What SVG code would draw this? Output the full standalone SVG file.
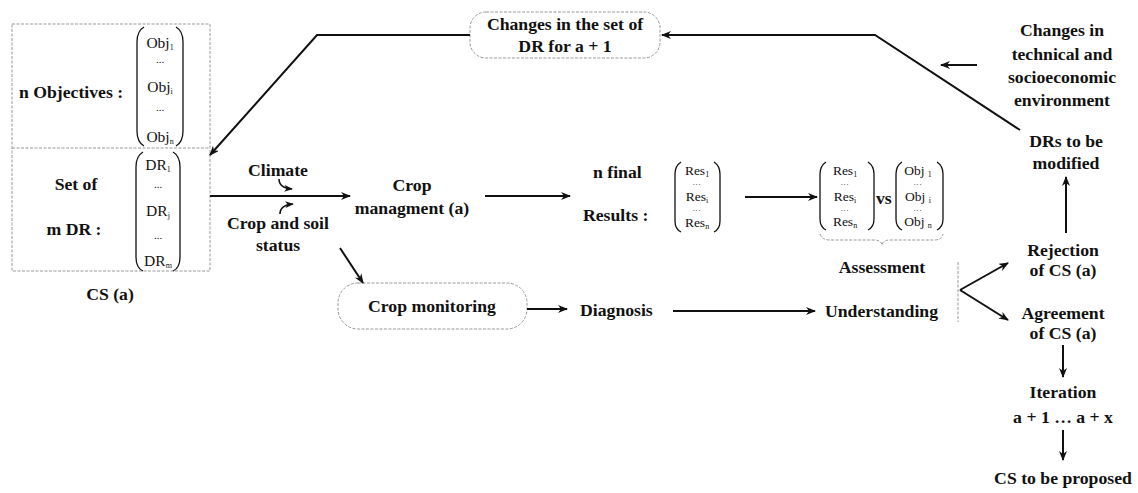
<svg xmlns="http://www.w3.org/2000/svg" width="1138" height="493" viewBox="0 0 1138 493" font-family="'Liberation Serif', 'Times New Roman', serif">
<defs>
<marker id="ah" viewBox="0 0 10 8" refX="9" refY="4" markerWidth="10" markerHeight="8" markerUnits="userSpaceOnUse" orient="auto">
<path d="M0,0 L10,4 L0,8 L3,4 z" fill="#111"/>
</marker>
<marker id="ahs" viewBox="0 0 10 8" refX="9" refY="4" markerWidth="9" markerHeight="7" markerUnits="userSpaceOnUse" orient="auto">
<path d="M0,0 L10,4 L0,8 L3,4 z" fill="#111"/>
</marker>
</defs>
<style>
text{font-family:'Liberation Serif','Times New Roman',serif;font-weight:bold;fill:#111;font-size:17.7px}
.c{text-anchor:middle}
.m{font-size:15.5px;font-weight:normal}
.r{font-size:13.5px;font-weight:normal}
.sub{font-size:8px}
.dots{font-size:11px;font-weight:normal}
.dd{font-size:8px;font-weight:normal;letter-spacing:0.8px}
.box{fill:none;stroke:#999;stroke-width:1;stroke-dasharray:3,1.5}
.par{fill:none;stroke:#111;stroke-width:1.3}
.arr{fill:none;stroke:#111;stroke-width:2;marker-end:url(#ah)}
.arrs{fill:none;stroke:#111;stroke-width:1.6;marker-end:url(#ahs)}
</style>
<rect width="1138" height="493" fill="#fff"/>

<g id="cs-box">
<rect class="box" x="12" y="24" width="198" height="247"/>
<line class="box" x1="12" y1="148" x2="210" y2="148"/>
<text x="19" y="98">n Objectives :</text>
<path class="par" d="M144,27 Q137,31 137,42 L137,131 Q137,142 144,146"/>
<path class="par" d="M176,27 Q183,31 183,42 L183,131 Q183,142 176,146"/>
<text class="m c" x="160" y="48">Obj<tspan class="sub" dy="2">1</tspan></text>
<text class="dots c" x="160" y="63">...</text>
<text class="m c" x="160" y="92">Obj<tspan class="sub" dy="2">i</tspan></text>
<text class="dots c" x="160" y="111">...</text>
<text class="m c" x="160" y="142">Obj<tspan class="sub" dy="2">n</tspan></text>
<text class="c" x="76" y="190">Set of</text>
<text class="c" x="74" y="235">m DR :</text>
<path class="par" d="M143,152 Q136,156 136,167 L136,257 Q136,268 143,271"/>
<path class="par" d="M173,152 Q180,156 180,167 L180,257 Q180,268 173,271"/>
<text class="m c" x="158" y="170">DR<tspan class="sub" dy="2">1</tspan></text>
<text class="dots c" x="158" y="188">...</text>
<text class="m c" x="158" y="216">DR<tspan class="sub" dy="2">j</tspan></text>
<text class="dots c" x="158" y="239">...</text>
<text class="m c" x="158" y="266">DR<tspan class="sub" dy="2">m</tspan></text>
<text class="c" x="110" y="300">CS (a)</text>
</g>

<g id="changes-set">
<rect class="box" x="470" y="12" width="190" height="46" rx="16"/>
<text class="c" x="565" y="30">Changes in the set of</text>
<text class="c" x="565" y="52">DR for a + 1</text>
</g>

<g id="climate"><text class="c" x="278" y="176">Climate</text></g>
<g id="soil"><text class="c" x="278" y="229">Crop and soil</text><text class="c" x="278" y="251">status</text></g>
<g id="crop-management"><text class="c" x="412" y="191">Crop</text><text class="c" x="412" y="214">managment (a)</text></g>

<g id="final-results">
<text x="593" y="178">n final</text>
<text x="583" y="221">Results :</text>
<path class="par" d="M681,162 Q675,166 675,174 L675,221 Q675,229 681,232"/>
<path class="par" d="M714,162 Q720,166 720,174 L720,221 Q720,229 714,232"/>
<text class="r c" x="697" y="175">Res<tspan class="sub" dy="2">1</tspan></text>
<text class="dd c" x="697" y="185">...</text>
<text class="r c" x="697" y="201">Res<tspan class="sub" dy="2">i</tspan></text>
<text class="dd c" x="697" y="211">...</text>
<text class="r c" x="697" y="227">Res<tspan class="sub" dy="2">n</tspan></text>
</g>

<g id="comparison">
<path class="par" d="M826,162 Q820,166 820,174 L820,219 Q820,227 826,230"/>
<path class="par" d="M868,162 Q874,166 874,174 L874,219 Q874,227 868,230"/>
<text class="r c" x="845" y="175">Res<tspan class="sub" dy="2">1</tspan></text>
<text class="dd c" x="845" y="185">...</text>
<text class="r c" x="845" y="201">Res<tspan class="sub" dy="2">i</tspan></text>
<text class="dd c" x="845" y="211">...</text>
<text class="r c" x="845" y="226">Res<tspan class="sub" dy="2">n</tspan></text>
<text x="876" y="204">vs</text>
<path class="par" d="M902,162 Q896,166 896,174 L896,219 Q896,227 902,230"/>
<path class="par" d="M937,162 Q943,166 943,174 L943,219 Q943,227 937,230"/>
<text class="r c" x="918" y="175">Obj <tspan class="sub" dy="2">1</tspan></text>
<text class="dd c" x="918" y="185">...</text>
<text class="r c" x="918" y="201">Obj <tspan class="sub" dy="2">i</tspan></text>
<text class="dd c" x="918" y="211">...</text>
<text class="r c" x="918" y="226">Obj <tspan class="sub" dy="2">n</tspan></text>
<path class="box" d="M820,234 Q822,240 830,240 L874,240 Q881,240 882,245 Q883,240 890,240 L934,240 Q942,240 943,234"/>
<text class="c" x="882" y="273">Assessment</text>
</g>

<g id="crop-monitoring">
<rect class="box" x="338" y="283" width="189" height="46" rx="20"/>
<text class="c" x="432" y="312">Crop monitoring</text>
</g>
<g id="diagnosis"><text x="580" y="316">Diagnosis</text></g>
<g id="understanding"><text x="825" y="317">Understanding</text></g>
<line class="box" x1="958" y1="262" x2="958" y2="322"/>

<g id="env-changes">
<text class="c" x="1062" y="36">Changes in</text>
<text class="c" x="1062" y="60">technical and</text>
<text class="c" x="1062" y="83">socioeconomic</text>
<text class="c" x="1062" y="106">environment</text>
</g>
<g id="drs-modified"><text class="c" x="1066" y="147">DRs to be</text><text class="c" x="1066" y="169">modified</text></g>
<g id="rejection"><text class="c" x="1063" y="256">Rejection</text><text class="c" x="1063" y="276">of CS (a)</text></g>
<g id="agreement"><text class="c" x="1063" y="319">Agreement</text><text class="c" x="1063" y="339">of CS (a)</text></g>
<g id="iteration"><text class="c" x="1063" y="398">Iteration</text><text class="c" x="1063" y="423">a + 1 … a + x</text></g>
<g id="cs-proposed"><text class="c" x="1063" y="484">CS to be proposed</text></g>

<g id="connectors">
<path class="arr" d="M1020,130 L875,35 L662,35"/>
<path class="arr" d="M470,35 L317,35 L210,155"/>
<line class="arr" x1="977" y1="65" x2="941" y2="65"/>
<line class="arr" x1="210" y1="196" x2="350" y2="196"/>
<path class="arrs" d="M279,179 Q279,188 292,189"/>
<path class="arrs" d="M280,214 Q280,205 293,204"/>
<line class="arr" x1="340" y1="248" x2="363" y2="283"/>
<line class="arr" x1="485" y1="196" x2="570" y2="196"/>
<line class="arr" x1="745" y1="197" x2="817" y2="197"/>
<line class="arr" x1="527" y1="309" x2="567" y2="309"/>
<line class="arr" x1="673" y1="311" x2="815" y2="311"/>
<line class="arr" x1="960" y1="290" x2="1008" y2="263"/>
<line class="arr" x1="960" y1="290" x2="1008" y2="320"/>
<line class="arr" x1="1066" y1="233" x2="1066" y2="177"/>
<line class="arr" x1="1063" y1="345" x2="1063" y2="377"/>
<line class="arr" x1="1063" y1="430" x2="1063" y2="460"/>
</g>
</svg>
